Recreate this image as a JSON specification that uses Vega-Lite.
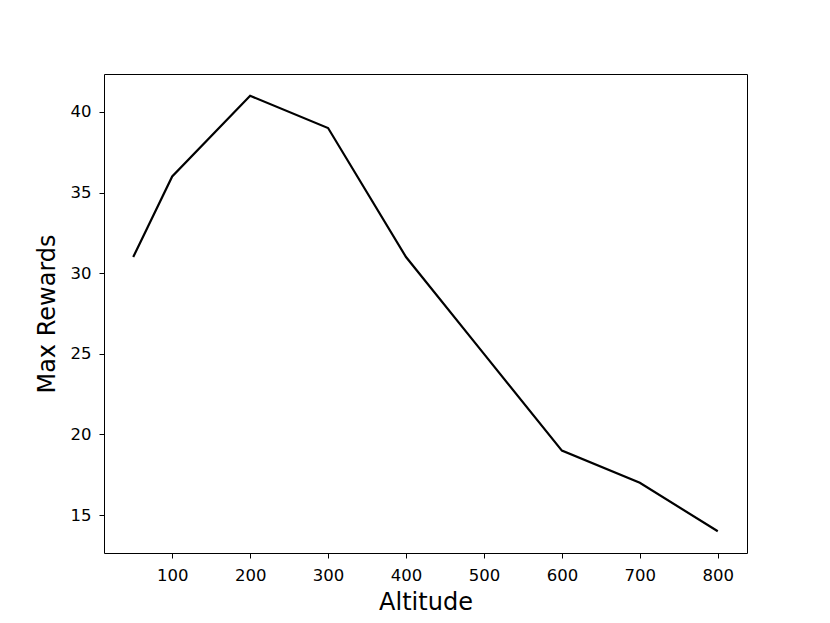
{
  "$schema": "https://vega.github.io/schema/vega-lite/v6.json",
  "width": 643,
  "height": 479,
  "autosize": {"type": "none"},
  "padding": {"left": 104, "top": 74, "right": 83, "bottom": 70},
  "background": "white",
  "config": {
    "view": {"stroke": "black", "strokeWidth": 1},
    "font": "DejaVu Sans"
  },
  "data": {
    "values": [
      {"Altitude": 50, "MaxRewards": 31},
      {"Altitude": 100, "MaxRewards": 36},
      {"Altitude": 200, "MaxRewards": 41},
      {"Altitude": 300, "MaxRewards": 39},
      {"Altitude": 400, "MaxRewards": 31},
      {"Altitude": 500, "MaxRewards": 25},
      {"Altitude": 600, "MaxRewards": 19},
      {"Altitude": 700, "MaxRewards": 17},
      {"Altitude": 800, "MaxRewards": 14}
    ]
  },
  "mark": {"type": "line", "color": "black", "strokeWidth": 2.2},
  "encoding": {
    "x": {
      "field": "Altitude",
      "type": "quantitative",
      "scale": {"domain": [12.5, 837.5], "nice": false, "zero": false},
      "axis": {
        "title": "Altitude",
        "values": [100, 200, 300, 400, 500, 600, 700, 800],
        "grid": false,
        "domain": false,
        "tickColor": "black",
        "tickSize": 5,
        "labelFontSize": 16.5,
        "labelColor": "black",
        "labelPadding": 9,
        "titleFontSize": 24,
        "titleFontWeight": "normal",
        "titleColor": "black",
        "titlePadding": 7
      }
    },
    "y": {
      "field": "MaxRewards",
      "type": "quantitative",
      "scale": {"domain": [12.65, 42.35], "nice": false, "zero": false},
      "axis": {
        "title": "Max Rewards",
        "values": [15, 20, 25, 30, 35, 40],
        "grid": false,
        "domain": false,
        "tickColor": "black",
        "tickSize": 5,
        "labelFontSize": 16.5,
        "labelColor": "black",
        "labelPadding": 8,
        "titleFontSize": 24,
        "titleFontWeight": "normal",
        "titleColor": "black",
        "titlePadding": 11
      }
    }
  }
}
